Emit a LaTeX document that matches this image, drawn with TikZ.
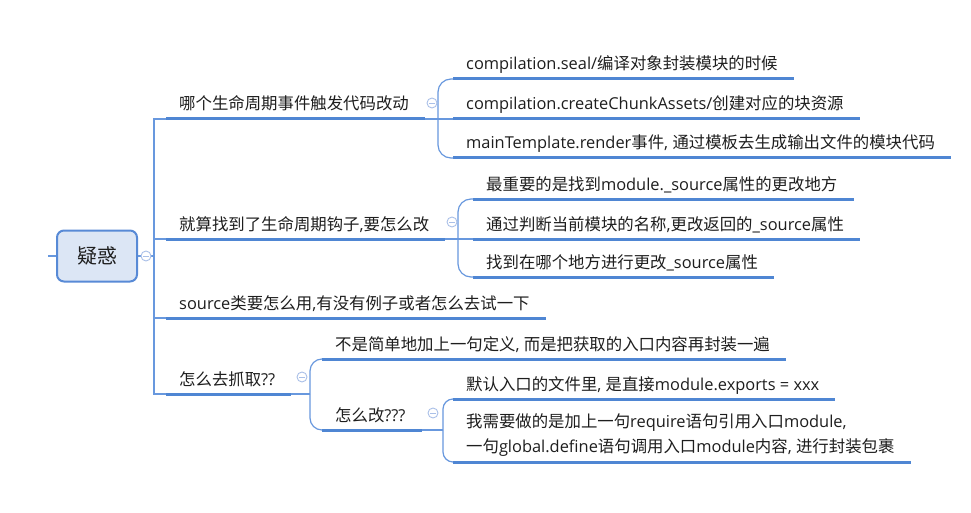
\documentclass[tikz,border=0pt]{standalone}
\usepackage{fontspec}
\setmainfont{Open Sans}
\newfontfamily\cjkfont{Noto Sans CJK SC}
\newcommand\zh[1]{{\cjkfont #1}}
\usetikzlibrary{calc}
\definecolor{ulc}{RGB}{79,134,211}
\definecolor{conc}{RGB}{104,152,222}
\definecolor{circc}{RGB}{170,192,232}
\definecolor{txtc}{RGB}{30,30,30}
\definecolor{rootfill}{RGB}{220,230,245}
\definecolor{rootdraw}{RGB}{88,138,214}
\tikzset{
  txt/.style={inner sep=0pt, text=txtc, font=\fontsize{16.4}{25}\selectfont},
  uline/.style={draw=ulc, line width=3pt},
  conn/.style={draw=conc, line width=1.2pt},
  collapse/.style={circle, draw=circc, fill=white, line width=0.9pt, minimum size=10pt, inner sep=0pt,
    path picture={\draw[circc, line width=0.9pt] ([xshift=-2.6pt]path picture bounding box.center) -- ([xshift=2.6pt]path picture bounding box.center);}},
  rootbox/.style={draw=rootdraw, fill=rootfill, line width=2pt, rounded corners=7pt,
    minimum width=80pt, minimum height=51pt, inner sep=0pt, text=txtc, font=\fontsize{20}{24}\selectfont\cjkfont}
}
% #1 name, #2 text x, #3 underline y, #4 text
\newcommand\mmtopic[4]{%
  \node[txt, anchor=base west] (#1) at (#2,#3-9) {#4};
  \coordinate (#1L) at (#2-13,#3);
  \coordinate (#1R) at ($(#1.east |- #1L)+(16,0)$);
  \draw[uline] (#1L) -- (#1R);
}
\begin{document}
\begin{tikzpicture}[x=1pt,y=-1pt]
\useasboundingbox (0,0) rectangle (971,513);
\fill[white] (0,0) rectangle (971,513);

% root
\node[rootbox] (root) at (97,256) {疑惑};
\coordinate (rin) at (48,256);
\coordinate (J0) at (154,256);
\draw[conn] (rin) -- (root.west);
\draw[conn] (root.east) -- (J0);

% level 1
\mmtopic{n1}{179}{119}{\zh{哪个生命周期事件触发代码改动}}
\mmtopic{n2}{179}{239}{\zh{就算找到了生命周期钩子},\zh{要怎么改}}
\mmtopic{n3}{179}{318}{source\zh{类要怎么用},\zh{有没有例子或者怎么去试一下}}
\mmtopic{n4}{179}{394}{\zh{怎么去抓取}??}

\draw[conn] (J0) |- (n1L);
\draw[conn] (J0) |- (n2L);
\draw[conn] (J0) |- (n3L);
\draw[conn] (J0) |- (n4L);

% children of n1
\mmtopic{n11}{466}{79}{compilation.seal/\zh{编译对象封装模块的时候}}
\mmtopic{n12}{466}{119}{compilation.createChunkAssets/\zh{创建对应的块资源}}
\mmtopic{n13}{466}{158}{mainTemplate.render\zh{事件}, \zh{通过模板去生成输出文件的模块代码}}
\coordinate (J1) at (438,119);
\draw[conn] (n1R) -- (J1);
\draw[conn, rounded corners=13pt] (J1) |- (n11L);
\draw[conn] (J1) -- (n12L);
\draw[conn, rounded corners=13pt] (J1) |- (n13L);

% children of n2
\mmtopic{n21}{486}{199}{\zh{最重要的是找到}module.\_source\zh{属性的更改地方}}
\mmtopic{n22}{486}{239}{\zh{通过判断当前模块的名称},\zh{更改返回的}\_source\zh{属性}}
\mmtopic{n23}{486}{277}{\zh{找到在哪个地方进行更改}\_source\zh{属性}}
\coordinate (J2) at (458,239);
\draw[conn] (n2R) -- (J2);
\draw[conn, rounded corners=13pt] (J2) |- (n21L);
\draw[conn] (J2) -- (n22L);
\draw[conn, rounded corners=13pt] (J2) |- (n23L);

% children of n4
\mmtopic{n41}{335}{359}{\zh{不是简单地加上一句定义}, \zh{而是把获取的入口内容再封装一遍}}
\mmtopic{n42}{335}{430}{\zh{怎么改}???}
\coordinate (J4) at (310,394);
\draw[conn] (n4R) -- (J4);
\draw[conn, rounded corners=12pt] (J4) |- (n41L);
\draw[conn, rounded corners=12pt] (J4) |- (n42L);

% children of n42
\mmtopic{n421}{466}{399}{\zh{默认入口的文件里}, \zh{是直接}module.exports = xxx}
\node[txt, anchor=base west, align=left] (n422) at (466,452)
  {\zh{我需要做的是加上一句}require\zh{语句引用入口}module,\\\zh{一句}global.define\zh{语句调用入口}module\zh{内容}, \zh{进行封装包裹}};
\coordinate (n422L) at (453,462);
\coordinate (n422R) at ($(n422.east |- n422L)+(16,0)$);
\draw[uline] (n422L) -- (n422R);
\coordinate (J42) at (443,430);
\draw[conn] (n42R) -- (J42);
\draw[conn, rounded corners=10pt] (J42) |- (n421L);
\draw[conn, rounded corners=10pt] (J42) |- (n422L);

% collapse markers
\node[collapse] (c0) at (146,256) {};
\node[collapse] (c1) at (432,103) {};
\node[collapse] (c2) at (452,222) {};
\node[collapse] (c4) at (302,377) {};
\node[collapse] (c42) at (433,413) {};
\end{tikzpicture}
\end{document}
